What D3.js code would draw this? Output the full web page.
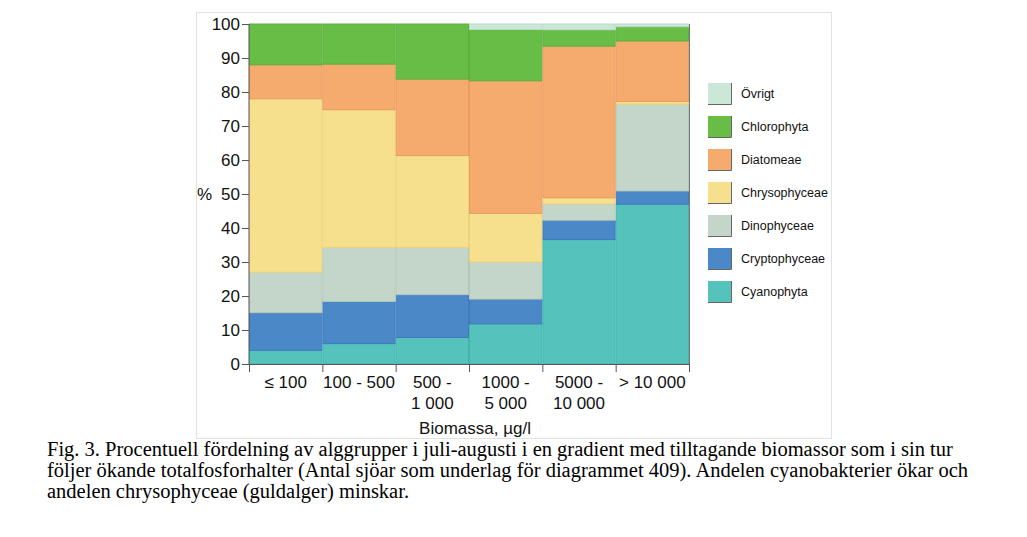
<!DOCTYPE html>
<html><head><meta charset="utf-8">
<script src="https://cdn.jsdelivr.net/npm/d3@7/dist/d3.min.js"></script>
<style>
html,body{margin:0;padding:0;background:#fff;}
svg{display:block;}
</style></head>
<body>
<script>
const categories = [["≤ 100"], ["100 - 500"], ["500 -", "1 000"], ["1000 -", "5 000"], ["5000 -", "10 000"], ["> 10 000"]];
const seriesNames = ["Cyanophyta", "Cryptophyceae", "Dinophyceae", "Chrysophyceae", "Diatomeae", "Chlorophyta", "Övrigt"];
const cyanophyta    = [4.0, 6.0, 7.8, 11.8, 36.6, 47.0];
const cryptophyceae = [11.1, 12.4, 12.6, 7.3, 5.7, 3.9];
const dinophyceae   = [11.9, 15.9, 13.9, 10.9, 4.8, 25.5];
const chrysophyceae = [51.0, 40.5, 27.0, 14.3, 1.8, 0.8];
const diatomeae     = [10.0, 13.4, 22.5, 39.0, 44.6, 17.8];
const chlorophyta   = [12.0, 11.8, 16.2, 15.1, 4.8, 4.2];
const ovrigt        = [0.0, 0.0, 0.0, 1.6, 1.7, 0.8];
const yTicks = [0, 10, 20, 30, 40, 50, 60, 70, 80, 90, 100];
const colors = {
  "Cyanophyta": "#55c2bb", "Cryptophyceae": "#4a88c8", "Dinophyceae": "#c4d6ca",
  "Chrysophyceae": "#f6e08e", "Diatomeae": "#f6ab6e", "Chlorophyta": "#68bd46", "Övrigt": "#cbe7d7"
};
const strokes = {
  "Cyanophyta": "#3fb5ad", "Cryptophyceae": "#3f7cbd", "Dinophyceae": "#b3c8ba",
  "Chrysophyceae": "#ecd27c", "Diatomeae": "#eb9c60", "Chlorophyta": "#5cb03c", "Övrigt": "#b9dcc8"
};
const legendOrder = ["Övrigt", "Chlorophyta", "Diatomeae", "Chrysophyceae", "Dinophyceae", "Cryptophyceae", "Cyanophyta"];
const caption = [
  "Fig. 3. Procentuell fördelning av alggrupper i juli-augusti i en gradient med tilltagande biomassor som i sin tur",
  "följer ökande totalfosforhalter (Antal sjöar som underlag för diagrammet 409). Andelen cyanobakterier ökar och",
  "andelen chrysophyceae (guldalger) minskar."
];

const W = 1027, H = 537;
const svg = d3.select("body").append("svg").attr("width", W).attr("height", H);

// frame
svg.append("rect").attr("x", 196.5).attr("y", 12.5).attr("width", 635).attr("height", 426)
  .attr("fill", "none").attr("stroke", "#e2e2e2").attr("stroke-width", 1);

const plot = {left: 249, right: 689, top: 24, bottom: 364};
const data = seriesNames.map(n => ({name: n, values: {
  "Cyanophyta": cyanophyta, "Cryptophyceae": cryptophyceae, "Dinophyceae": dinophyceae,
  "Chrysophyceae": chrysophyceae, "Diatomeae": diatomeae, "Chlorophyta": chlorophyta, "Övrigt": ovrigt}[n]}));
const idx = d3.range(categories.length);
const x = d3.scaleBand().domain(idx).range([plot.left, plot.right]).padding(0);
const y = d3.scaleLinear().domain([0, 100]).range([plot.bottom, plot.top]);

const rows = idx.map(i => { const r = {i}; data.forEach(s => r[s.name] = s.values[i]); return r; });
const stack = d3.stack().keys(seriesNames)(rows);

const g = svg.append("g");
stack.forEach(layer => {
  g.selectAll(null).data(layer).enter().append("rect")
    .attr("x", d => x(d.data.i) + 0.5)
    .attr("width", x.bandwidth() - 1)
    .attr("y", d => y(d[1]))
    .attr("height", d => Math.max(0, y(d[0]) - y(d[1])))
    .attr("fill", colors[layer.key])
    .attr("stroke", strokes[layer.key])
    .attr("stroke-width", 1);
});

// right edge line
svg.append("line").attr("x1", plot.right + 0.5).attr("x2", plot.right + 0.5)
  .attr("y1", y(100)).attr("y2", plot.bottom).attr("stroke", "#777").attr("stroke-width", 1);

const font = "'Liberation Sans', Arial, Helvetica, sans-serif";

// Y axis
const yAxis = svg.append("g").attr("transform", `translate(${plot.left},0)`)
  .call(d3.axisLeft(y).tickValues(yTicks).tickSize(7).tickPadding(2).tickFormat(d3.format("d")));
yAxis.selectAll("text").attr("font-family", font).attr("font-size", 17).attr("fill", "#111");
yAxis.selectAll("line").attr("stroke", "#555");
yAxis.select(".domain").attr("stroke", "#555").attr("d", `M-0,${plot.bottom}V${plot.top}`);

// X axis
const xAxisG = svg.append("g").attr("transform", `translate(0,${plot.bottom})`);
xAxisG.append("line").attr("x1", plot.left).attr("x2", plot.right + 1).attr("y1", 0.5).attr("y2", 0.5)
  .attr("stroke", "#555");
const boundaries = idx.map(i => x(i)).concat([plot.right]);
xAxisG.selectAll("line.tick").data(boundaries).enter().append("line")
  .attr("class", "tick").attr("x1", d => d + 0.5).attr("x2", d => d + 0.5)
  .attr("y1", 0).attr("y2", 8).attr("stroke", "#555");
idx.forEach(i => {
  const t = xAxisG.append("text").attr("x", x(i) + x.bandwidth() / 2).attr("y", 24)
    .attr("text-anchor", "middle").attr("font-family", font).attr("font-size", 17).attr("fill", "#111");
  categories[i].forEach((line, k) => {
    t.append("tspan").attr("x", x(i) + x.bandwidth() / 2).attr("y", 24 + k * 21).text(line);
  });
});

// axis titles
svg.append("text").attr("x", 475).attr("y", 434).attr("text-anchor", "middle")
  .attr("font-family", font).attr("font-size", 17).attr("fill", "#111").text("Biomassa, µg/l");
svg.append("text").attr("x", 197).attr("y", y(50) + 6).attr("text-anchor", "start")
  .attr("font-family", font).attr("font-size", 17).attr("fill", "#111").text("%");

// legend
const lg = svg.append("g").attr("transform", "translate(708,83)");
legendOrder.forEach((n, k) => {
  const row = lg.append("g").attr("transform", `translate(0,${k * 33})`);
  row.append("rect").attr("x", 0).attr("y", 0).attr("width", 23).attr("height", 21).attr("fill", colors[n]);
  row.append("path").attr("d", "M23.5,0V21.5H0").attr("fill", "none").attr("stroke", "#666").attr("stroke-width", 1);
  row.append("text").attr("x", 33).attr("y", 15).attr("font-family", font).attr("font-size", 12.5)
    .attr("fill", "#111").text(n);
});

// caption
caption.forEach((line, k) => {
  svg.append("text").attr("x", 47).attr("y", 456 + k * 21)
    .attr("font-family", "'Liberation Serif', 'Times New Roman', serif").attr("font-size", 20.5)
    .attr("fill", "#000").text(line);
});
</script>
</body></html>
